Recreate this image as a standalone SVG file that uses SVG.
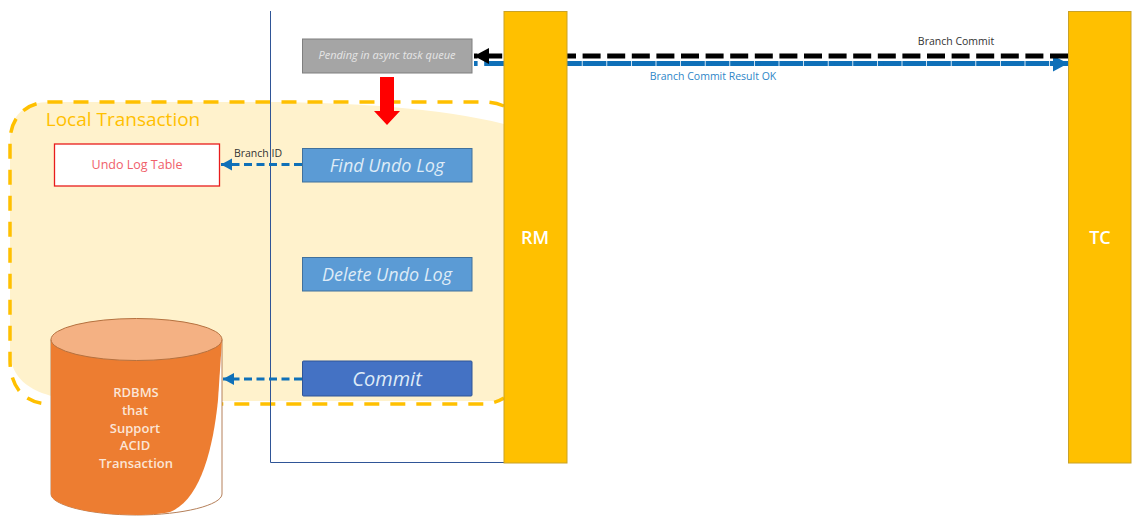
<svg xmlns="http://www.w3.org/2000/svg" width="1135" height="520" viewBox="0 0 1135 520">
<style>
text{font-family:"Open Sans","Noto Sans","Liberation Sans",sans-serif;text-anchor:middle}
.bar{fill:#FFC000;stroke:#C9A227;stroke-width:1}
.box{stroke:#41719C;stroke-width:1}
.it{font-style:italic;fill:#DEEBF7}
.lab{font-size:10.5px}
.bl{fill:none;stroke:#0F70B8;stroke-width:3;stroke-dasharray:8 4.5}
</style>
<defs>
<marker id="hb" markerUnits="userSpaceOnUse" markerWidth="14" markerHeight="14" refX="11" refY="6" orient="auto"><path d="M0 0L11 6L0 12Z" fill="#0F70B8"/></marker>
<marker id="hblue" markerUnits="userSpaceOnUse" markerWidth="18" markerHeight="18" refX="15" refY="8" orient="auto"><path d="M0 0L15 8L0 16Z" fill="#0F70B8"/></marker>
<marker id="hblack" markerUnits="userSpaceOnUse" markerWidth="18" markerHeight="18" refX="15" refY="8" orient="auto"><path d="M0 0L15 8L0 16Z" fill="#000"/></marker>
</defs>
<rect width="1135" height="520" fill="#fff"/>
<g id="local-transaction">
<path d="M50 102H260C350 102 440 108 504 124V401H100C50 401 10 390 10 350V140C10 115 25 102 50 102Z" fill="#FFF2CC"/>
<path d="M504 106Q494 102 484 102H50C25 102 10 118 10 142V360C10 388 25 404 50 404H484Q494 404 504 398" fill="none" stroke="#FFC000" stroke-width="3.5" stroke-dasharray="15 11"/>
<text x="123" y="126" font-size="19" fill="#FFC000">Local Transaction</text>
</g>
<g id="frame"><path d="M270.500 11V462.500H504.500V11" fill="none" stroke="#2F5597" stroke-width="1"/></g>
<g id="connectors">
<path d="M1068 63.500H474" class="bl" style="stroke-width:5;stroke-dasharray:18 6.600"/>
<path d="M490 63.500H1068" fill="none" stroke="#0F70B8" stroke-width="5" stroke-dasharray="18 6.600" marker-end="url(#hblue)"/>
<path d="M1068 56H474" fill="none" stroke="#000" stroke-width="5" stroke-dasharray="18 6.600" marker-end="url(#hblack)"/>
<path d="M302 164.500H221" class="bl" marker-end="url(#hb)"/>
<path d="M302 379H223" class="bl" marker-end="url(#hb)"/>
<path d="M380 77H394V111H400L387 125L374 111H380Z" fill="#FF0000"/>
<text x="956" y="45" class="lab" fill="#333">Branch Commit</text>
<text x="713" y="80" class="lab" fill="#2E86C8">Branch Commit Result OK</text>
<text x="258" y="157" class="lab" fill="#333">Branch ID</text>
</g>
<g id="rm"><rect class="bar" x="504" y="11.500" width="63" height="451.500"/><text x="535" y="244" font-size="18" fill="#fff" font-weight="600">RM</text></g>
<g id="tc"><rect class="bar" x="1068.500" y="11.500" width="62.500" height="451.500"/><text x="1100" y="244" font-size="18" fill="#fff" font-weight="600">TC</text></g>
<g id="pending"><rect x="302.500" y="39" width="169.500" height="34" fill="#A5A5A5" stroke="#7F7F7F"/><text x="387" y="59" font-size="11" font-style="italic" fill="#E6E6E6">Pending in async task queue</text></g>
<g id="find"><rect class="box" x="302.500" y="148.500" width="169.500" height="33.500" fill="#5B9BD5"/><text x="387" y="172" font-size="18" class="it">Find Undo Log</text></g>
<g id="delete"><rect class="box" x="302.500" y="257.500" width="169.500" height="33.500" fill="#5B9BD5"/><text x="387" y="281" font-size="18" class="it">Delete Undo Log</text></g>
<g id="commit"><rect x="302.500" y="361" width="169.500" height="35" rx="1" fill="#4472C4" stroke="#2F5597"/><text x="387" y="386" font-size="20" class="it">Commit</text></g>
<g id="undo-table"><rect x="54.500" y="144" width="165" height="42" fill="#fff" stroke="#E81C1C" stroke-width="1.300"/><text x="137" y="169" font-size="12.500" fill="#F0606A">Undo Log Table</text></g>
<g id="rdbms">
<path d="M51 339.500V494C51 505 90 515 136.500 515S222 505 222 494V339.500Z" fill="#fff" stroke="#B5805A" stroke-width="1"/>
<path d="M51 339.500V494C51 505 90 515 136.500 515C150 515 160 514 170 512C200 500 213 450 218 400L222 339.500Z" fill="#ED7D31"/>
<ellipse cx="136.500" cy="339.500" rx="85.500" ry="21" fill="#F4B183" stroke="#B5713F" stroke-width="1"/>
<g font-size="13" fill="#FBE5D6" font-weight="600"><text x="136" y="397">RDBMS</text><text x="135" y="415">that</text><text x="135" y="433">Support</text><text x="135" y="450">ACID</text><text x="136" y="468">Transaction</text></g>
</g>
</svg>
